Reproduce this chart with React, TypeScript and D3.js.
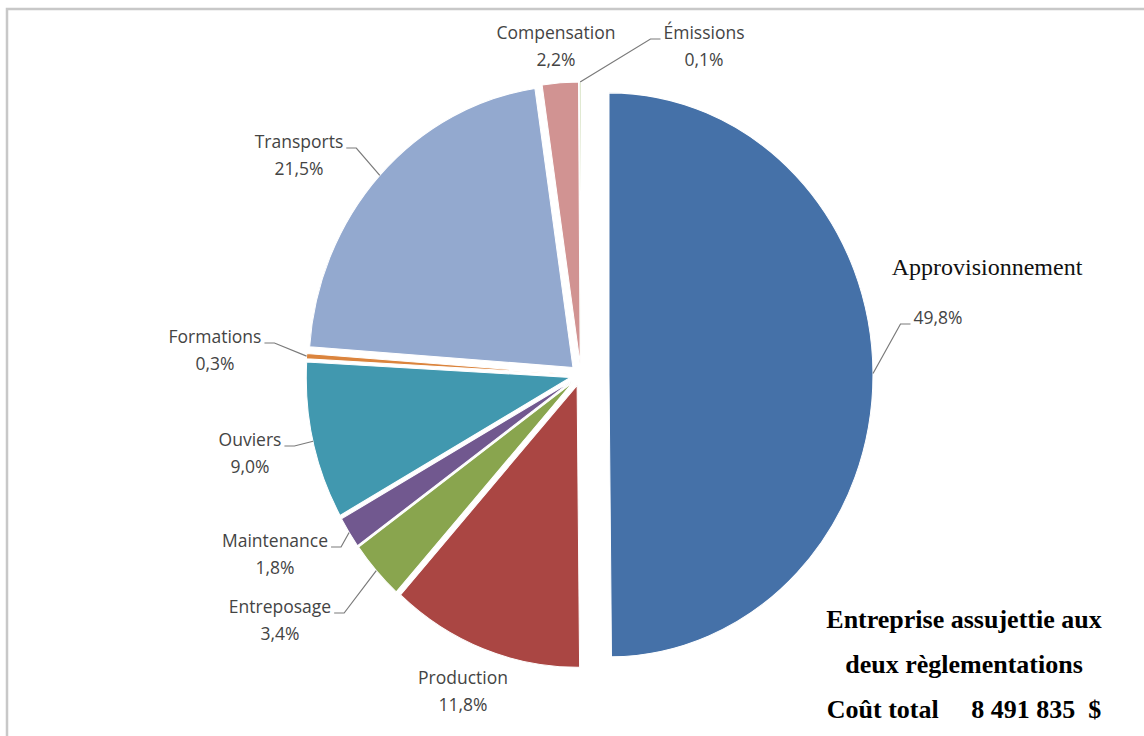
import React from 'react';
import * as d3 from 'd3';

// Répartition des coûts (%)
const categories = [
  'Approvisionnement',
  'Production',
  'Entreposage',
  'Maintenance',
  'Ouviers',
  'Formations',
  'Transports',
  'Compensation',
  'Émissions',
];
const shares = [49.8, 11.8, 3.4, 1.8, 9.0, 0.3, 21.5, 2.2, 0.1];
const sliceColors = [
  '#4571a8', '#aa4643', '#89a54e', '#71588f', '#4198af',
  '#db843d', '#93a9cf', '#d19392', '#b9cd96',
];
const boxLines = [
  'Entreprise assujettie aux',
  'deux règlementations',
  'Coût total     8 491 835  $',
];

// label layout: centre x of the text block, centre y of its first line
const labelPos: Record<string, [number, number]> = {
  Approvisionnement: [938, 318],
  Production: [463, 678],
  Entreposage: [280, 607],
  Maintenance: [275, 541],
  Ouviers: [250, 440],
  Formations: [215, 337],
  Transports: [299, 142],
  Compensation: [556, 33],
  'Émissions': [704, 33],
};

const W = 1144;
const H = 736;
const cx = 581;
const cy = 375;
const rx = 264;
const ry = 282;
const LABEL_SIZE = 17.5;
const LABEL_FONT = `${LABEL_SIZE}px "Open Sans"`;
const LINE_GAP = 27;

const fmtPct = (v: number) => d3.format('.1f')(v).replace('.', ',') + '%';

let ctx: CanvasRenderingContext2D | null = null;
const textWidth = (s: string) => {
  if (!ctx) ctx = document.createElement('canvas').getContext('2d');
  if (!ctx) return s.length * 9;
  ctx.font = LABEL_FONT;
  return ctx.measureText(s).width;
};

export default function App() {
  const arcs = d3.pie<number>().sort(null).value(d => d)(shares);
  const arc = d3.arc<d3.PieArcDatum<number>>().innerRadius(0).outerRadius(rx);
  const k = ry / rx;
  const leader = d3.line();

  const slices = arcs.map((a, i) => {
    const mid = (a.startAngle + a.endAngle) / 2;
    const e = i === 0 ? 28 : 11;
    const ox = cx + e * Math.sin(mid);
    const oy = cy - e * Math.cos(mid);
    const edge: [number, number] = [ox + rx * Math.sin(mid), oy - ry * Math.cos(mid)];
    return { a, i, mid, ox, oy, edge };
  });

  return (
    <svg
      width={W}
      height={H}
      style={{ position: 'absolute', left: 0, top: 0, background: '#fff' }}
    >
      <rect x={7} y={9} width={W + 50} height={H + 50} fill="#fff" stroke="#c8c8c8" strokeWidth={2.5} />

      {slices.map(s => (
        <path
          key={categories[s.i]}
          transform={`translate(${s.ox},${s.oy}) scale(1,${k})`}
          d={arc(s.a) || ''}
          fill={sliceColors[s.i]}
          stroke="#fff"
          strokeWidth={1}
        />
      ))}

      {slices.map(s => {
        const name = categories[s.i];
        const [lx, ly] = labelPos[name];
        const lines = s.i === 0 ? [fmtPct(shares[s.i])] : [name, fmtPct(shares[s.i])];
        const w = textWidth(lines[0]);
        const blockY = ly + ((lines.length - 1) * LINE_GAP) / 2;
        const dist = Math.hypot(s.edge[0] - lx, s.edge[1] - blockY);
        const leftSide = lx < s.edge[0];
        const nearX = leftSide ? lx + w / 2 + 3 : lx - w / 2 - 3;
        const kneeX = leftSide ? nearX + 10 : nearX - 10;
        const lineY = ly + 6;
        return (
          <g key={'lab-' + name}>
            {dist > 55 && (
              <path
                d={leader([[nearX, lineY], [kneeX, lineY], s.edge]) || ''}
                fill="none"
                stroke="#7a7a7a"
                strokeWidth={1.2}
              />
            )}
            {lines.map((t, j) => (
              <text
                key={j}
                x={lx}
                y={ly + j * LINE_GAP}
                dy="0.35em"
                textAnchor="middle"
                fontFamily='"Open Sans", sans-serif'
                fontSize={LABEL_SIZE}
                fill="#444"
              >
                {t}
              </text>
            ))}
          </g>
        );
      })}

      <text
        x={987}
        y={275}
        textAnchor="middle"
        fontFamily='"Liberation Serif", "Times New Roman", serif'
        fontSize={24}
        fill="#111"
      >
        {categories[0]}
      </text>

      {boxLines.map((t, j) => (
        <text
          key={j}
          x={964}
          y={628 + j * 45}
          textAnchor="middle"
          fontFamily='"Liberation Serif", "Times New Roman", serif'
          fontWeight="bold"
          fontSize={26}
          fill="#000"
          style={{ whiteSpace: 'pre' }}
        >
          {t}
        </text>
      ))}
    </svg>
  );
}
